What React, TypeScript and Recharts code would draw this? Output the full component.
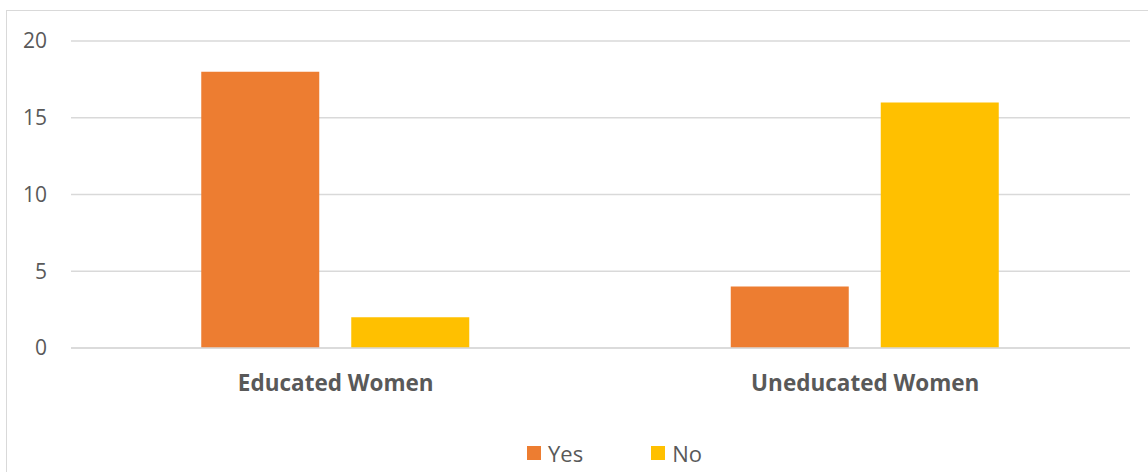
import { BarChart, Bar, XAxis, YAxis, CartesianGrid, Legend } from "recharts";

const categories = ["Educated Women", "Uneducated Women"];
const yesValues = [18, 4];
const noValues = [2, 16];
const yTicks = [0, 5, 10, 15, 20];
const seriesOrder = ["Yes", "No"];

const data = categories.map((name, i) => ({
  name,
  Yes: yesValues[i],
  No: noValues[i],
}));

const FONT = "'Open Sans', 'Noto Sans', sans-serif";
const TEXT = "#595959";

// Legend with wide spacing between items, kept in series order
const LegendContent = ({ payload }: any) => {
  const items = [...(payload || [])].sort(
    (a: any, b: any) => seriesOrder.indexOf(a.value) - seriesOrder.indexOf(b.value)
  );
  return (
    <div style={{ display: "flex", justifyContent: "flex-start", paddingLeft: 527, fontFamily: FONT }}>
      {items.map((p: any, i: number) => (
        <div
          key={p.value}
          style={{
            display: "flex",
            alignItems: "center",
            marginLeft: i === 0 ? 0 : 68,
          }}
        >
          <span
            style={{
              width: 14,
              height: 14,
              background: p.color,
              display: "inline-block",
              marginRight: 7,
            }}
          />
          <span style={{ color: TEXT, fontSize: 22, lineHeight: "26px" }}>{p.value}</span>
        </div>
      ))}
    </div>
  );
};

const App = () => {
  return (
    <div style={{ position: "fixed", left: 0, top: 0, width: 1148, height: 472, background: "#fff", overflow: "hidden" }}>
      <div
        style={{
          position: "absolute",
          left: 6,
          top: 10,
          width: 1160,
          height: 480,
          border: "1.5px solid #d9d9d9",
        }}
      />
      <div style={{ position: "absolute", left: 0, top: 0 }}>
        <BarChart
          width={1148}
          height={472}
          data={data}
          margin={{ top: 41, right: 18, bottom: 68, left: 11 }}
          barCategoryGap="24.6%"
          barGap={32}
        >
          <CartesianGrid vertical={false} stroke="#d9d9d9" strokeWidth={1.5} />
          <XAxis
            dataKey="name"
            axisLine={{ stroke: "#d9d9d9", strokeWidth: 1.5 }}
            tickLine={false}
            tickSize={0}
            tickMargin={27}
            tick={{ fill: TEXT, fontSize: 22.5, fontWeight: 700, fontFamily: FONT }}
          />
          <YAxis
            width={60}
            domain={[0, 20]}
            ticks={yTicks}
            axisLine={false}
            tickLine={false}
            tickSize={0}
            tickMargin={24}
            tick={{ fill: TEXT, fontSize: 21, fontFamily: FONT }}
          />
          <Bar dataKey="Yes" fill="#ed7d31" isAnimationActive={false} />
          <Bar dataKey="No" fill="#ffc000" isAnimationActive={false} />
          <Legend
            content={<LegendContent />}
            wrapperStyle={{ top: 440, left: 0, width: 1148 }}
          />
        </BarChart>
      </div>
    </div>
  );
};

export default App;
